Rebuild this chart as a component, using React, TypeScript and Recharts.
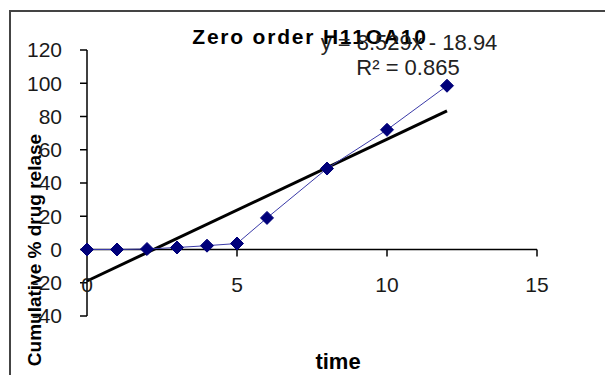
import React from 'react'
import {
  LineChart, Line, XAxis, YAxis, ReferenceLine,
} from 'recharts'

// Liberación acumulada frente al tiempo (orden cero), con recta de tendencia
const tiempos = [0, 1, 2, 3, 4, 5, 6, 8, 10, 12]
const liberado = [0, 0, 0.3, 1.2, 2.3, 3.6, 19, 48.7, 72, 98.5]

// Ajuste lineal que figura en la etiqueta del gráfico
const pendiente = 8.529
const ordenada = -18.94
const r2 = 0.865
const tramoTendencia = [0, 12]

const xTicks = [0, 5, 10, 15]
const xMarcas = [5, 10, 15]
const yTicks = [-40, -20, 0, 20, 40, 60, 80, 100, 120]

const serie = tiempos.map((t, i) => ({ t, y: liberado[i] }))
const tendencia = tramoTendencia.map(t => ({ t, y: pendiente * t + ordenada }))

const FONT = '"Liberation Sans", Arial, sans-serif'

function Rombo(props: any) {
  const { cx, cy } = props
  if (cx == null || cy == null) return null
  const r = 6.5
  return (
    <polygon
      points={`${cx},${cy - r} ${cx + r},${cy} ${cx},${cy + r} ${cx - r},${cy}`}
      fill="#00007a"
      stroke="#00007a"
    />
  )
}

function TickX(props: any) {
  const { x, y, payload } = props
  return (
    <text x={x} y={y - 24} textAnchor="middle" fontSize={21} fontFamily={FONT} fill="#1a1a1a">
      {payload.value}
    </text>
  )
}

export default function App() {
  return (
    <div style={{ position: 'fixed', left: 0, top: 0, width: 605, height: 375, background: '#fff', overflow: 'hidden' }}>
      <div style={{ position: 'absolute', left: 9, top: 10, width: 700, height: 500, borderTop: '2px solid #444', borderLeft: '2px solid #444' }} />
      <LineChart
        width={605}
        height={375}
        data={serie}
        margin={{ top: 50, right: 68, bottom: 0, left: 0 }}
        style={{ position: 'absolute', left: 0, top: 0 }}
      >
        <XAxis
          dataKey="t"
          type="number"
          domain={[0, 15]}
          ticks={xTicks}
          axisLine={false}
          tickLine={false}
          tickSize={0}
          tickMargin={0}
          height={59}
          tick={<TickX />}
          label={{
            value: 'time',
            content: (p: any) => (
              <text x={p.viewBox.x + p.viewBox.width / 2 + 26} y={p.viewBox.y + 53} textAnchor="middle"
                fontSize={22} fontWeight="bold" fontFamily={FONT} fill="#000">time</text>
            ),
          }}
        />
        <YAxis
          type="number"
          domain={[-40, 120]}
          ticks={yTicks}
          width={87}
          tickSize={7}
          tickMargin={18}
          axisLine={{ stroke: '#000', strokeWidth: 1.5 }}
          tickLine={{ stroke: '#000', strokeWidth: 1.5 }}
          tick={{ fontSize: 21, fontFamily: FONT, fill: '#1a1a1a' }}
          label={{
            value: 'Cumulative % drug relase',
            content: (p: any) => {
              const cx = 34
              const cy = p.viewBox.y + p.viewBox.height / 2 + 67
              return (
                <text x={cx} y={cy} transform={`rotate(-90, ${cx}, ${cy})`} textAnchor="middle" dominantBaseline="central"
                  fontSize={19} fontWeight="bold" fontFamily={FONT} fill="#000">Cumulative % drug relase</text>
              )
            },
          }}
        />
        <ReferenceLine y={0} stroke="#000" strokeWidth={1.5} />
        {xMarcas.map(v => (
          <ReferenceLine key={v} segment={[{ x: v, y: 0 }, { x: v, y: -4.2 }]} stroke="#000" strokeWidth={1.5} />
        ))}
        <Line data={tendencia} dataKey="y" stroke="#000" strokeWidth={3} dot={false} isAnimationActive={false} />
        <Line dataKey="y" stroke="#3a3aa8" strokeWidth={1} dot={<Rombo />} isAnimationActive={false} />
      </LineChart>
      <svg width={605} height={375} style={{ position: 'absolute', left: 0, top: 0, pointerEvents: 'none' }}>
        <text x={310} y={44} textAnchor="middle" fontSize={21} fontWeight="bold" fontFamily={FONT} letterSpacing={1.8} fill="#000">
          Zero order H11OA10
        </text>
        <text x={409} y={50} textAnchor="middle" fontSize={22} fontFamily={FONT} fill="#222">
          {`y = ${pendiente}x - ${Math.abs(ordenada)}`}
        </text>
        <text x={408} y={75} textAnchor="middle" fontSize={22} fontFamily={FONT} fill="#222">
          {`R² = ${r2}`}
        </text>
      </svg>
    </div>
  )
}
